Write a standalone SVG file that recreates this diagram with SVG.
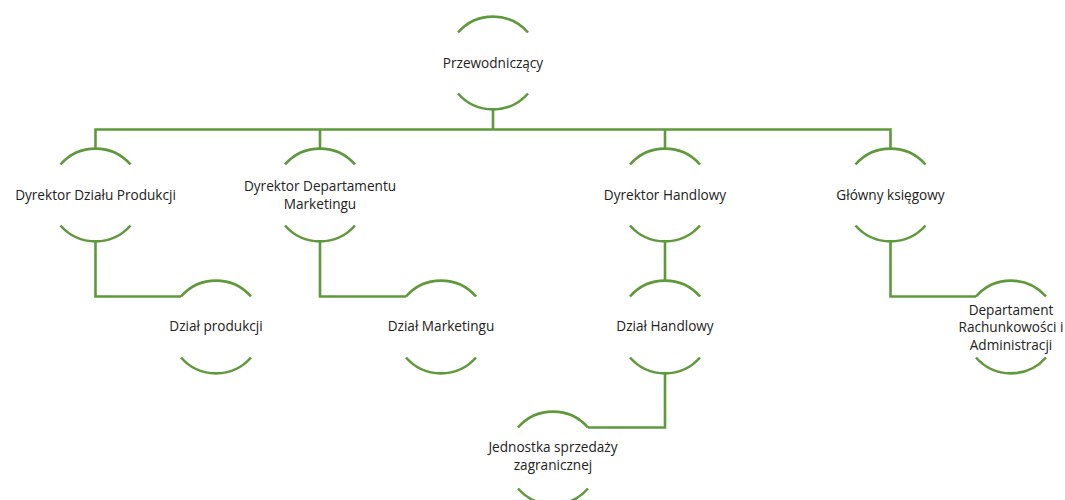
<svg xmlns="http://www.w3.org/2000/svg" width="1065" height="500" viewBox="0 0 1065 500">
<style>
.arc{fill:none;stroke:#5e9a3c;stroke-width:2.6}
.con{fill:none;stroke:#5e9a3c;stroke-width:2.6}
text{font-family:"Open Sans","Liberation Sans",Arial,sans-serif;font-size:13.6px;fill:#222;text-anchor:middle}
</style>
<rect width="1065" height="500" fill="#fff"/>
<g id="connectors">
<path class="con" d="M493,109.5 V129.5"/>
<path class="con" d="M95.5,148.5 V129.5 H890.5 V148.5"/>
<path class="con" d="M320,129.5 V148.5"/>
<path class="con" d="M665,129.5 V148.5"/>
<path class="con" d="M95.5,241.5 V296.5 H181"/>
<path class="con" d="M320,241.5 V296.5 H406"/>
<path class="con" d="M665,241.5 V280"/>
<path class="con" d="M890.5,241.5 V296.5 H976"/>
<path class="con" d="M665,373 V427.5 H588"/>
</g>
<g id="n-przewodniczacy">
<path class="arc" d="M458,32.5 A46.5,46.5 0 0 1 528,32.5"/>
<path class="arc" d="M458,93.5 A46.5,46.5 0 0 0 528,93.5"/>
<text x="493" y="68">Przewodniczący</text>
</g>
<g id="n-dyr-produkcji">
<path class="arc" d="M60.5,164.5 A46.5,46.5 0 0 1 130.5,164.5"/>
<path class="arc" d="M60.5,225.5 A46.5,46.5 0 0 0 130.5,225.5"/>
<text x="95.5" y="200">Dyrektor Działu Produkcji</text>
</g>
<g id="n-dyr-marketingu">
<path class="arc" d="M285,164.5 A46.5,46.5 0 0 1 355,164.5"/>
<path class="arc" d="M285,225.5 A46.5,46.5 0 0 0 355,225.5"/>
<text x="320" y="191">Dyrektor Departamentu</text>
<text x="320" y="209">Marketingu</text>
</g>
<g id="n-dyr-handlowy">
<path class="arc" d="M630,164.5 A46.5,46.5 0 0 1 700,164.5"/>
<path class="arc" d="M630,225.5 A46.5,46.5 0 0 0 700,225.5"/>
<text x="665" y="200">Dyrektor Handlowy</text>
</g>
<g id="n-ksiegowy">
<path class="arc" d="M855.5,164.5 A46.5,46.5 0 0 1 925.5,164.5"/>
<path class="arc" d="M855.5,225.5 A46.5,46.5 0 0 0 925.5,225.5"/>
<text x="890.5" y="200">Główny księgowy</text>
</g>
<g id="n-dzial-produkcji">
<path class="arc" d="M181,296.5 A46.5,46.5 0 0 1 251,296.5"/>
<path class="arc" d="M181,357.5 A46.5,46.5 0 0 0 251,357.5"/>
<text x="216" y="331">Dział produkcji</text>
</g>
<g id="n-dzial-marketingu">
<path class="arc" d="M406,296.5 A46.5,46.5 0 0 1 476,296.5"/>
<path class="arc" d="M406,357.5 A46.5,46.5 0 0 0 476,357.5"/>
<text x="441" y="331">Dział Marketingu</text>
</g>
<g id="n-dzial-handlowy">
<path class="arc" d="M630,296.5 A46.5,46.5 0 0 1 700,296.5"/>
<path class="arc" d="M630,357.5 A46.5,46.5 0 0 0 700,357.5"/>
<text x="665" y="331">Dział Handlowy</text>
</g>
<g id="n-departament">
<path class="arc" d="M976,296.5 A46.5,46.5 0 0 1 1046,296.5"/>
<path class="arc" d="M976,357.5 A46.5,46.5 0 0 0 1046,357.5"/>
<text x="1011" y="315">Departament</text>
<text x="1011" y="332">Rachunkowości i</text>
<text x="1011" y="350">Administracji</text>
</g>
<g id="n-jednostka">
<path class="arc" d="M518,427.5 A46.5,46.5 0 0 1 588,427.5"/>
<path class="arc" d="M518,488.5 A46.5,46.5 0 0 0 588,488.5"/>
<text x="553" y="452">Jednostka sprzedaży</text>
<text x="553" y="470">zagranicznej</text>
</g>
</svg>
